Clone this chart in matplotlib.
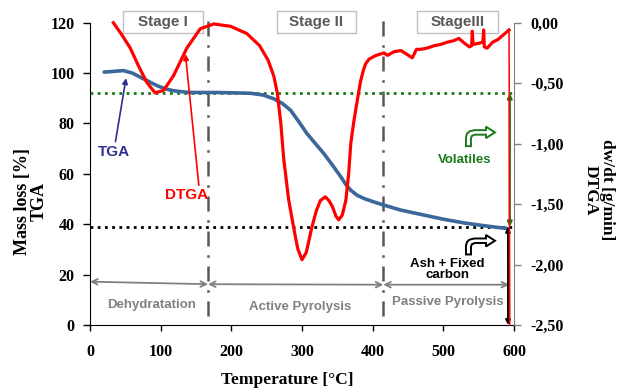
import matplotlib
matplotlib.use("Agg")
import matplotlib.pyplot as plt
from matplotlib.patches import Rectangle, Polygon
from matplotlib.transforms import Affine2D, ScaledTranslation

# ---------------- data ----------------
tga_temp = [20, 30, 47, 60, 71, 85, 95, 106, 118, 130, 142, 156, 180, 213, 227, 245,
            260, 272, 284, 296, 307, 319, 331, 343, 355, 362, 369, 378, 388, 400,
            416, 440, 470, 500, 530, 553, 575, 591]
tga_mass = [100.4, 100.6, 101.0, 100.0, 98.4, 96.4, 95.0, 93.8, 93.0, 92.6, 92.3, 92.3,
            92.3, 92.1, 92.0, 91.3, 89.8, 88.0, 85.2, 80.5, 76.0, 72.0, 68.0, 63.5,
            58.8, 55.8, 53.5, 51.5, 50.2, 49.0, 47.6, 45.6, 43.8, 42.0, 40.5, 39.6,
            38.8, 38.3]

dtga_temp = [33, 45, 57, 68, 80, 92, 104, 118, 137, 156, 175, 199, 222, 240, 252,
             260, 265, 270, 274, 281, 288, 294, 300, 306, 314, 320, 326, 333, 338,
             343, 348, 352, 357, 362, 366, 369, 373, 376, 380, 383, 387, 390, 395,
             405, 416, 421, 430, 440, 448, 456, 462, 468, 477, 487, 496, 506, 514,
             522, 530, 537, 540, 541, 542, 550, 556, 557, 558, 562, 570, 577, 585,
             593, 594]
dtga_rate = [0.00, -0.10, -0.21, -0.35, -0.49, -0.58, -0.56, -0.44, -0.21, -0.05,
             -0.01, -0.03, -0.09, -0.19, -0.31, -0.44, -0.58, -0.83, -1.12, -1.46,
             -1.69, -1.87, -1.96, -1.90, -1.69, -1.56, -1.47, -1.44, -1.47, -1.52,
             -1.60, -1.63, -1.59, -1.47, -1.25, -1.00, -0.83, -0.72, -0.58, -0.48,
             -0.39, -0.34, -0.30, -0.27, -0.25, -0.27, -0.24, -0.23, -0.26, -0.29,
             -0.22, -0.22, -0.21, -0.19, -0.18, -0.16, -0.15, -0.13, -0.17, -0.20,
             -0.19, -0.07, -0.18, -0.17, -0.16, -0.06, -0.20, -0.21, -0.16, -0.14,
             -0.10, -0.06, -2.50]

x_ticks = [0, 100, 200, 300, 400, 500, 600]
y_ticks = [0, 20, 40, 60, 80, 100, 120]
y2_ticks = [0.0, -0.5, -1.0, -1.5, -2.0, -2.5]
y2_ticklabels = ["0,00", "-0,50", "-1,00", "-1,50", "-2,00", "-2,50"]

stage_bounds = [167, 415]
volatile_level = 92
residue_level = 39
stage_names = ["Stage I", "Stage II", "StageIII"]
stage_boxes = [(47, 160), (264, 376), (463, 577)]
zone_names = ["Dehydratation", "Active Pyrolysis", "Passive Pyrolysis"]

# ---------------- figure ----------------
fig = plt.figure(figsize=(6.26, 3.89), dpi=100)
ax = fig.add_axes([0.1438, 0.1645, 0.6773, 0.7771])
ax2 = ax.twinx()

serif = "Liberation Serif"
sans = "Liberation Sans"

ax.set_xlim(0, 600)
ax.set_ylim(0, 120)
ax2.set_ylim(-2.5, 0)

ax.set_xticks(x_ticks)
ax.set_yticks(y_ticks)
ax2.set_yticks(y2_ticks)
ax2.set_yticklabels(y2_ticklabels)

for a in (ax, ax2):
    a.spines["top"].set_visible(False)
ax.spines["right"].set_visible(False)
ax2.spines["left"].set_visible(False)
ax2.spines["bottom"].set_visible(False)
ax2.spines["right"].set_color("#808080")
ax.spines["left"].set_color("black")
ax.spines["bottom"].set_color("black")

ax.tick_params(axis="y", direction="out", length=5, width=1, pad=6)
ax.tick_params(axis="x", direction="out", length=4, width=1, pad=10)
ax2.tick_params(axis="y", direction="out", length=5, width=1, pad=7, colors="black")
ax2.tick_params(axis="y", color="#808080")
for lab in ax.get_xticklabels() + ax.get_yticklabels() + ax2.get_yticklabels():
    lab.set_fontfamily(serif)
    lab.set_fontweight("bold")
    lab.set_fontsize(11.5)

ax.set_xlabel("Temperature [°C]", fontfamily=serif, fontweight="bold", fontsize=12.5)
ax.xaxis.set_label_coords(0.465, -0.155)
ax.set_ylabel("Mass loss [%]\nTGA", fontfamily=serif, fontweight="bold", fontsize=13,
              linespacing=1.0)
ax.yaxis.set_label_coords(-0.10, 0.41)
ax2.set_ylabel("dw/dt [g/min]\nDTGA", fontfamily=serif, fontweight="bold", fontsize=12.5,
               rotation=270, linespacing=1.0, va="center")
ax2.yaxis.set_label_coords(1.2, 0.447)

# reference lines
ax.axhline(volatile_level, color="#1a7a1a", lw=2, ls=(0, (1, 1.6)), zorder=2)
ax.axhline(residue_level, color="black", lw=2, ls=(0, (1, 1.6)), zorder=2)
for xb in stage_bounds:
    ax.plot([xb, xb], [3.5, 121.5], color="#595959", lw=1.8,
            ls=(0, (6, 3.5, 1, 3.5)), clip_on=False, zorder=2)

# curves
ax.plot(tga_temp, tga_mass, color="#3c679a", lw=2.6, zorder=4, solid_capstyle="round")
ax2.plot(dtga_temp[:-1], dtga_rate[:-1], color="#ff0000", lw=2.3, zorder=5,
         clip_on=False)
ax2.plot(dtga_temp[-2:], dtga_rate[-2:], color="#ff0000", lw=1.1, zorder=5,
         clip_on=False)
ax2.set_zorder(ax.get_zorder() + 1)
ax2.patch.set_visible(False)

# stage boxes
for name, (x0, x1) in zip(stage_names, stage_boxes):
    ax.add_patch(Rectangle((x0, 115.8), x1 - x0, 8.8, facecolor="white",
                           edgecolor="#bfbfbf", lw=1.0, clip_on=False, zorder=6))
    ax.text((x0 + x1) / 2, 120.2, name, ha="center", va="center", fontfamily=sans,
            fontweight="bold", fontsize=11, color="#595959", zorder=7, clip_on=False)

# bottom zone arrows
arrow_gray = "#7f7f7f"
ax.annotate("", xy=(0, 17.2), xytext=(stage_bounds[0], 16.2),
            arrowprops=dict(arrowstyle="<->", color=arrow_gray, lw=1.3,
                            shrinkA=0, shrinkB=0, mutation_scale=10))
ax.annotate("", xy=(stage_bounds[0], 16.2), xytext=(stage_bounds[1], 16.0),
            arrowprops=dict(arrowstyle="<->", color=arrow_gray, lw=1.3,
                            shrinkA=0, shrinkB=0, mutation_scale=10))
ax.annotate("", xy=(stage_bounds[1], 16.0), xytext=(593, 16.0),
            arrowprops=dict(arrowstyle="<->", color=arrow_gray, lw=1.3,
                            shrinkA=0, shrinkB=0, mutation_scale=10))
zone_x = [87, 298, 506]
zone_y = [7.8, 7.0, 9.2]
for name, zx, zy in zip(zone_names, zone_x, zone_y):
    ax.text(zx, zy, name, ha="center", va="center", fontfamily=sans, fontweight="bold",
            fontsize=9.5, color="#808080", zorder=6)

# curve labels
ax.text(34, 68.5, "TGA", ha="center", va="center", fontfamily=sans, fontweight="bold",
        fontsize=11, color="#2e3192", zorder=8)
ax.annotate("", xy=(51, 98), xytext=(36, 72.8),
            arrowprops=dict(arrowstyle="-|>", color="#2e3192", lw=1.2, shrinkA=0,
                            shrinkB=0, mutation_scale=8), zorder=8)
ax.text(137, 51.5, "DTGA", ha="center", va="center", fontfamily=sans, fontweight="bold",
        fontsize=11, color="#ff0000", zorder=8)
ax.annotate("", xy=(135, 107.5), xytext=(154, 55.5),
            arrowprops=dict(arrowstyle="-|>", color="#ff0000", lw=1.2, shrinkA=0,
                            shrinkB=0, mutation_scale=8), zorder=8)

# vertical range arrows
ax.annotate("", xy=(594, volatile_level), xytext=(594, residue_level),
            arrowprops=dict(arrowstyle="<|-|>", color="#1a7a1a", lw=1.6,
                            shrinkA=0, shrinkB=0, mutation_scale=7), zorder=9)
ax.annotate("", xy=(591.5, residue_level), xytext=(591.5, 0),
            arrowprops=dict(arrowstyle="<|-|>", color="black", lw=1.4,
                            shrinkA=0, shrinkB=0, mutation_scale=7), zorder=9)

# bent-arrow icons
icon_shape = [(0, 0), (5, 0), (5, 8), (6, 10.3), (9, 11.5), (20, 11.5), (20, 8),
              (29, 13.75), (20, 19.5), (20, 16), (8.5, 16), (3.5, 14.8), (1, 12.5),
              (0, 9)]


def bent_arrow(x, y, color):
    tr = Affine2D() + ScaledTranslation(x, y, ax.transData)
    ax.add_patch(Polygon(icon_shape, closed=True, facecolor="white", edgecolor=color,
                         lw=1.4, transform=tr, zorder=8, clip_on=False))


bent_arrow(532, 71, "#1a7a1a")
bent_arrow(532, 28, "black")
ax.text(530, 65.5, "Volatiles", ha="center", va="center", fontfamily=sans,
        fontweight="bold", fontsize=9.5, color="#1a7a1a", zorder=8)
ax.text(506, 22, "Ash + Fixed\ncarbon", ha="center", va="center", fontfamily=sans,
        fontweight="bold", fontsize=9.5, color="black", linespacing=0.95, zorder=8)

fig.savefig("out.png", dpi=100)
